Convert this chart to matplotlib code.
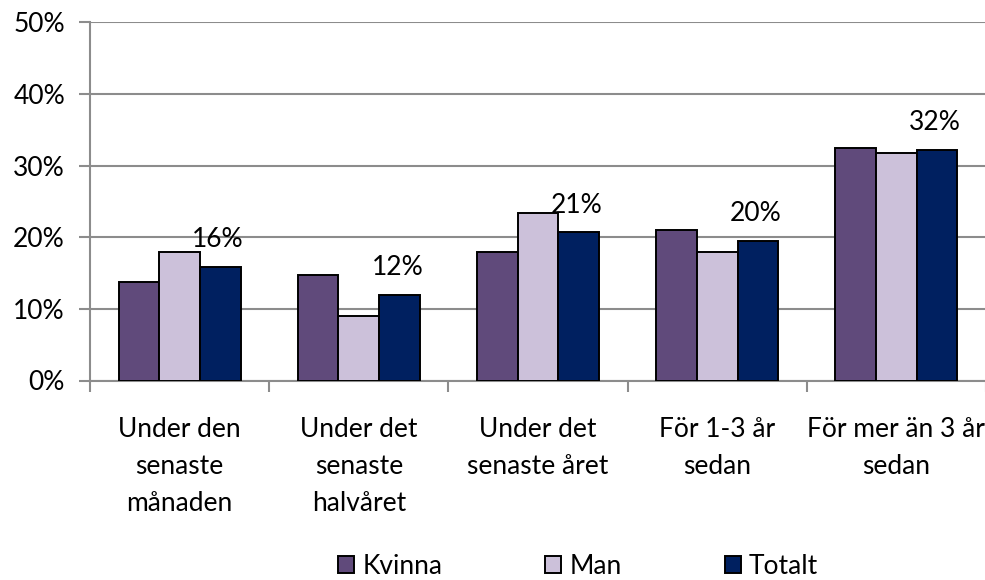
import matplotlib
matplotlib.use("Agg")
import matplotlib.pyplot as plt
import numpy as np
from matplotlib.patches import Patch

categories = ["Under den\nsenaste\nmånaden", "Under det\nsenaste\nhalvåret",
              "Under det\nsenaste året", "För 1-3 år\nsedan", "För mer än 3 år\nsedan"]
kvinna = [13.8, 14.7, 18.0, 21.0, 32.5]
man = [18.0, 9.0, 23.4, 18.0, 31.7]
totalt = [15.9, 12.0, 20.7, 19.5, 32.2]
totalt_labels = ["16%", "12%", "21%", "20%", "32%"]
series_names = ["Kvinna", "Man", "Totalt"]
colors = ["#604A7B", "#CCC1DA", "#002060"]
yticks = [0, 10, 20, 30, 40, 50]

plt.rcParams['font.family'] = ['Lato', 'DejaVu Sans']
FS = 19

fig = plt.figure(figsize=(9.85, 5.8), dpi=100)
ax = fig.add_axes([90/985, 199.5/580, 896/985, 358.2/580])

x = np.arange(len(categories))
w = 0.227
for i, (vals, col) in enumerate(zip([kvinna, man, totalt], colors)):
    ax.bar(x + (i - 1) * w, vals, width=w, color=col, edgecolor="black",
           linewidth=1.4, zorder=3)

for xi, v, lab in zip(x, totalt, totalt_labels):
    ax.annotate(lab, (xi + w, v), xytext=(-1.5, 19.5), textcoords="offset points",
                ha="center", va="center", fontsize=FS, color="black", zorder=4)

ax.set_xlim(-0.5, len(categories) - 0.5)
ax.set_ylim(0, 50)
ax.set_yticks(yticks)
ax.set_yticklabels([f"{t}%" for t in yticks], fontsize=FS)
ax.yaxis.grid(True, color="#8C8C8C", linewidth=1.5, zorder=0)
ax.set_axisbelow(True)

ax.set_xticks(x)
ax.set_xticklabels(categories, fontsize=FS, linespacing=1.6)
ax.set_xticks(np.arange(len(categories) + 1) - 0.5, minor=True)
ax.tick_params(axis="x", which="major", length=0, pad=26)
ax.tick_params(axis="x", which="minor", length=8, width=1.5, color="#8C8C8C")
ax.tick_params(axis="y", length=8, width=1.5, color="#8C8C8C", pad=10)

for s in ["top", "right"]:
    ax.spines[s].set_visible(False)
for s in ["left", "bottom"]:
    ax.spines[s].set_color("#8C8C8C")
    ax.spines[s].set_linewidth(1.5)

handles = [Patch(facecolor=c, edgecolor="black", linewidth=1.4) for c in colors]
fig.legend(handles, series_names, loc="center", bbox_to_anchor=(578/985, 1 - 566/580),
           ncol=3, frameon=False, fontsize=FS, handlelength=0.62, handleheight=0.62,
           handletextpad=0.3, columnspacing=3.9)

fig.savefig("out.png", dpi=100)
